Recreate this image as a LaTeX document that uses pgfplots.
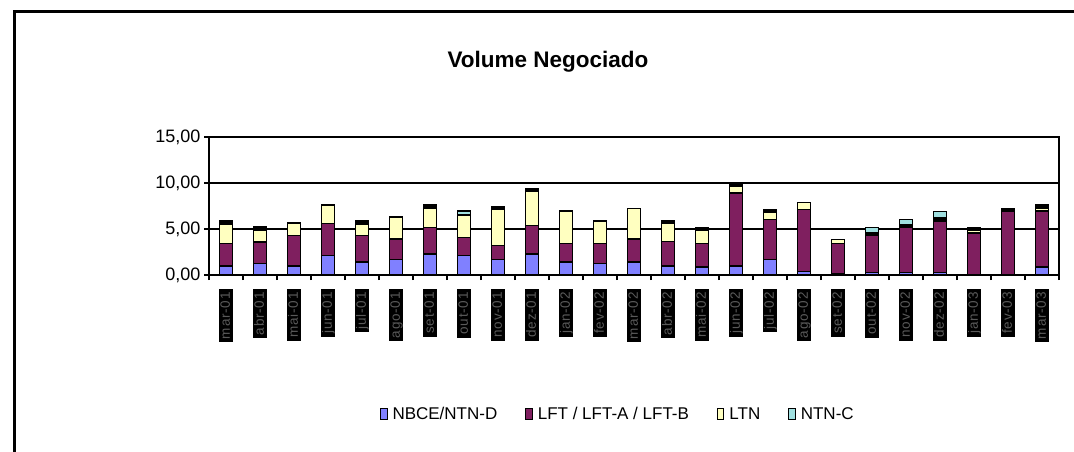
\documentclass[border=0pt]{standalone}
\usepackage{pgfplots}
\usepackage{pgfplotstable}
\pgfplotsset{compat=1.18}
\usepackage{fontspec}
\setmainfont{Liberation Sans}
\newfontfamily\lblfont[LetterSpace=6]{Liberation Sans}
\definecolor{cblue}{HTML}{8080FF}
\definecolor{cpurp}{HTML}{7F1F5F}
\definecolor{cyell}{HTML}{FFFFC0}
\definecolor{ccyan}{HTML}{A0E0E0}
\definecolor{lblgray}{HTML}{5A5A5A}

% x: category index; b: NBCE/NTN-D; p: LFT; y: LTN; k: other (black); c: NTN-C
\pgfplotstableread{
x  b     p     y     k     c
0  1.00  2.40  2.15  0.35  0
1  1.24  2.36  1.24  0.40  0
2  1.00  3.30  1.35  0.00  0
3  2.10  3.50  2.00  0.00  0
4  1.40  2.90  1.25  0.35  0
5  1.70  2.20  2.40  0.00  0
6  2.30  2.85  2.15  0.30  0
7  2.10  2.00  2.40  0.05  0.40
8  1.70  1.50  3.95  0.25  0
9  2.30  3.05  3.70  0.30  0
10 1.40  2.00  3.55  0.00  0
11 1.25  2.20  2.40  0.00  0
12 1.40  2.50  3.30  0.00  0
13 1.00  2.65  1.95  0.30  0
14 0.85  2.60  1.40  0.33  0
15 1.00  7.90  0.75  0.35  0
16 1.70  4.35  0.80  0.30  0
17 0.35  6.80  0.70  0.00  0
18 0.10  3.35  0.40  0.00  0
19 0.30  4.05  0.00  0.30  0.50
20 0.30  4.90  0.00  0.30  0.55
21 0.30  5.55  0.00  0.33  0.70
22 0.05  4.50  0.30  0.33  0
23 0.05  6.90  0.00  0.25  0
24 0.85  6.10  0.35  0.30  0
}\data

\begin{document}
\begin{tikzpicture}
\useasboundingbox (0pt,0pt) rectangle (1074pt,451pt);
\draw[line width=3pt] (14pt,-10pt) -- (14pt,439pt) -- (1090pt,439pt);
\node[anchor=base, font=\bfseries\fontsize{22.5}{26}\selectfont] at (548pt,384pt) {Volume Negociado};
\begin{axis}[
  at={(209pt,176pt)}, anchor=south west,
  scale only axis, width=850pt, height=138pt,
  xmin=-0.5, xmax=24.5, ymin=0, ymax=15,
  ybar stacked, bar width=13pt,
  xtick={-0.5,0.5,...,24.5},
  x tick label as interval,
  xtick pos=bottom, ytick pos=left,
  xticklabels={mar-01,abr-01,mai-01,jun-01,jul-01,ago-01,set-01,out-01,nov-01,dez-01,jan-02,fev-02,mar-02,abr-02,mai-02,jun-02,jul-02,ago-02,set-02,out-02,nov-02,dez-02,jan-03,fev-03,mar-03},
  xticklabel style={rotate=90, anchor=east, fill=black, text=lblgray,
    font=\lblfont\fontsize{13.5}{15}\selectfont, inner xsep=3pt, inner ysep=0.5pt,
    text height=10pt, text depth=2.5pt},
  xticklabel shift=9pt,
  ytick={0,5,10,15},
  yticklabels={{0,00},{5,00},{10,00},{15,00}},
  yticklabel style={font=\fontsize{18}{20}\selectfont},
  ymajorgrids, grid style={black, line width=1.3pt},
  axis line style={line width=1.5pt},
  tick align=outside, major tick length=5pt,
  tick style={black, line width=1.2pt},
  legend columns=4,
  legend style={at={(0.481,-1.007)}, anchor=center, draw=none,
    font=\fontsize{17}{19}\selectfont,
    /tikz/every odd column/.append style={column sep=3pt},
    /tikz/every even column/.append style={column sep=26pt}},
  legend image code/.code={\draw[#1, line width=1pt] (0pt,-5.5pt) rectangle (6.5pt,5.5pt);},
]
\addplot[fill=cblue, draw=black, line width=1.4pt] table[x=x,y=b]{\data};
\addlegendentry{NBCE/NTN-D}
\addplot[fill=cpurp, draw=black, line width=1.4pt] table[x=x,y=p]{\data};
\addlegendentry{LFT / LFT-A / LFT-B}
\addplot[fill=cyell, draw=black, line width=1.4pt] table[x=x,y=y]{\data};
\addlegendentry{LTN}
\addplot[fill=black, draw=black, line width=1.4pt, forget plot] table[x=x,y=k]{\data};
\addplot[fill=ccyan, draw=black, line width=1.4pt] table[x=x,y=c]{\data};
\addlegendentry{NTN-C}
\end{axis}
\end{tikzpicture}
\end{document}
